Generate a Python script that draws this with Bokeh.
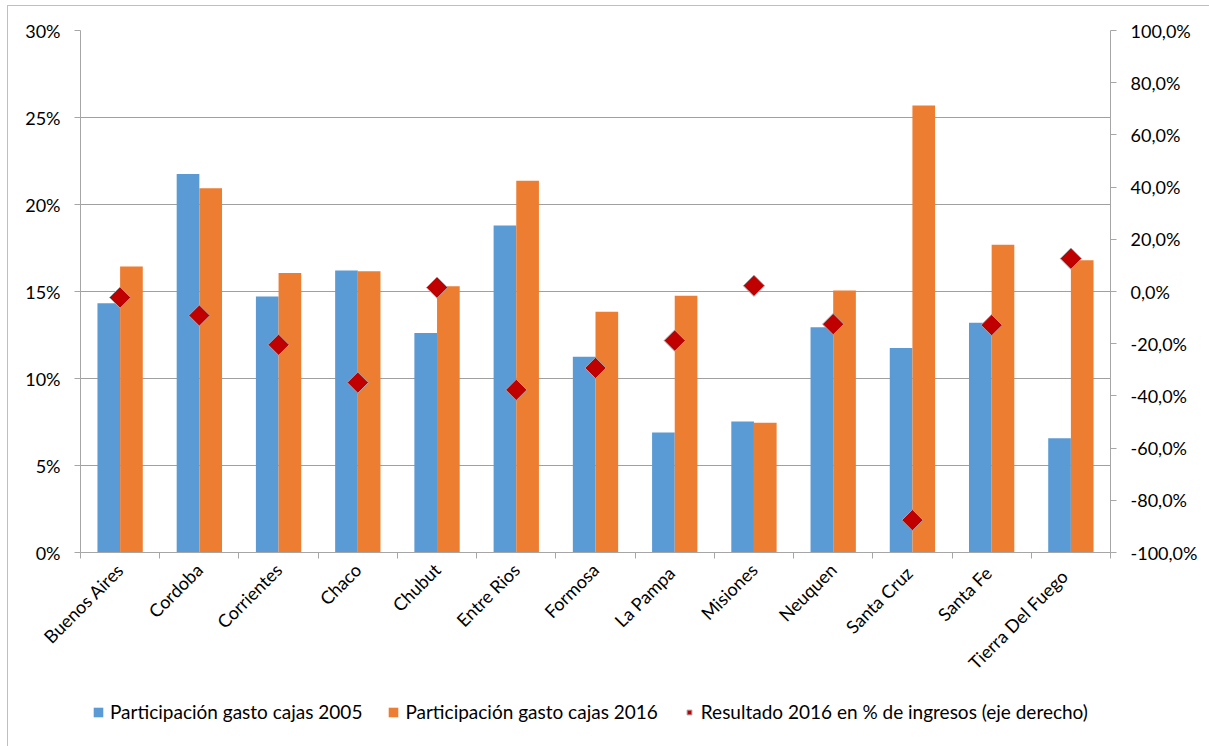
import numpy as np
from bokeh.plotting import figure
from bokeh.layouts import column
from bokeh.models import (Range1d, LinearAxis, FixedTicker, ColumnDataSource,
                          Legend, LegendItem)
from bokeh.transform import dodge
from bokeh.embed import file_html
from bokeh.resources import INLINE

# ---------------- data ----------------
provinces = ["Buenos Aires", "Cordoba", "Corrientes", "Chaco", "Chubut", "Entre Rios",
             "Formosa", "La  Pampa", "Misiones", "Neuquen", "Santa  Cruz", "Santa  Fe",
             "Tierra  Del  Fuego"]
gasto_2005 = [14.33, 21.76, 14.71, 16.21, 12.62, 18.79, 11.25, 6.90, 7.53, 12.95, 11.76, 13.20, 6.57]
gasto_2016 = [16.44, 20.94, 16.07, 16.17, 15.30, 21.36, 13.83, 14.75, 7.45, 15.06, 25.69, 17.68, 16.80]
resultado_2016 = [-2.3, -9.2, -20.4, -34.9, 1.5, -37.7, -29.3, -18.8, 2.2, -12.5, -87.6, -12.9, 12.6]

left_ticks = [0, 5, 10, 15, 20, 25, 30]
left_labels = ["0%", "5%", "10%", "15%", "20%", "25%", "30%"]
right_ticks = [-100, -80, -60, -40, -20, 0, 20, 40, 60, 80, 100]
right_labels = ["-100,0%", "-80,0%", "-60,0%", "-40,0%", "-20,0%", "0,0%",
                "20,0%", "40,0%", "60,0%", "80,0%", "100,0%"]

label_2005 = "Participación gasto cajas 2005"
label_2016 = "Participación gasto cajas 2016"
label_res = "Resultado 2016 en % de ingresos (eje derecho)"

# ---------------- styles ----------------
BLUE = "#5B9BD5"
ORANGE = "#ED7D31"
RED = "#C00000"
AXIS_GRAY = "#A6A6A6"
GRID_GRAY = "#A0A0A0"
FONT = "Lato"
FS = "18px"

n = len(provinces)
slot = [i + 0.5 for i in range(n)]          # category slot centres on the x scale
bounds = list(range(n + 1))                  # category boundaries (tick marks)

source = ColumnDataSource(dict(slot=slot, provincia=provinces, g05=gasto_2005,
                               g16=gasto_2016, res=resultado_2016))

p = figure(x_range=Range1d(0, n), y_range=Range1d(0, 30),
           width=1201, height=680,
           output_backend="svg", toolbar_location=None,
           min_border_left=72, min_border_right=99,
           min_border_top=24, min_border_bottom=134)
p.outline_line_color = None
p.background_fill_color = "white"
p.border_fill_color = "white"

p.extra_y_ranges = {"right": Range1d(-100, 100)}

# grid
p.xgrid.visible = False
p.ygrid.ticker = FixedTicker(ticks=left_ticks)
p.ygrid.grid_line_color = GRID_GRAY
p.ygrid.grid_line_width = 1


def style_axis(ax):
    ax.axis_line_color = AXIS_GRAY
    ax.major_tick_line_color = AXIS_GRAY
    ax.major_tick_out = 6
    ax.major_tick_in = 0
    ax.minor_tick_line_color = None
    ax.major_label_text_font = FONT
    ax.major_label_text_font_size = FS
    ax.major_label_text_color = "#000000"


# left axis
yax = p.yaxis[0]
style_axis(yax)
yax.ticker = FixedTicker(ticks=left_ticks)
yax.major_label_overrides = dict(zip(left_ticks, left_labels))
yax.major_label_standoff = 14

# right axis
rax = LinearAxis(y_range_name="right", ticker=FixedTicker(ticks=right_ticks))
style_axis(rax)
rax.major_label_overrides = dict(zip(right_ticks, right_labels))
rax.major_label_standoff = 14
p.add_layout(rax, "right")

# bottom: tick marks at category boundaries (no labels)
tick_ax = p.xaxis[0]
style_axis(tick_ax)
tick_ax.ticker = FixedTicker(ticks=bounds)
tick_ax.major_label_text_font_size = "0px"
tick_ax.major_label_text_color = None
tick_ax.major_label_standoff = 0

# bottom: category labels at slot centres
cat_ax = LinearAxis(ticker=FixedTicker(ticks=slot))
style_axis(cat_ax)
cat_ax.axis_line_color = None
cat_ax.major_tick_line_color = None
cat_ax.major_label_overrides = dict(zip(slot, provinces))
cat_ax.major_label_orientation = np.pi / 4
cat_ax.major_label_standoff = 2
p.add_layout(cat_ax, "below")

# bars
p.vbar(x=dodge("slot", -0.143), top="g05", width=0.286,
       source=source, fill_color=BLUE, line_color=None)
p.vbar(x=dodge("slot", 0.143), top="g16", width=0.286,
       source=source, fill_color=ORANGE, line_color=None)
# diamonds
p.scatter(x="slot", y="res", y_range_name="right", source=source,
          marker="square", angle=np.pi / 4, size=15,
          fill_color=RED, line_color=AXIS_GRAY, line_width=1)

# ---------------- legend strip (separate figure below the chart) ----------------
# its ranges lie far outside the data, so its renderers only feed the legend swatches
lf = figure(width=1201, height=60, x_range=Range1d(-1000, -999),
            y_range=Range1d(1000, 1001),
            output_backend="svg", toolbar_location=None,
            x_axis_location=None, y_axis_location=None,
            min_border=0, min_border_left=0, min_border_right=0,
            min_border_top=0, min_border_bottom=0)
lf.outline_line_color = None
lf.xgrid.visible = False
lf.ygrid.visible = False
lf.background_fill_color = "white"
lf.border_fill_color = "white"

l05 = lf.vbar(x="slot", top="g05", width=0.286, source=source,
              fill_color=BLUE, line_color=None)
l16 = lf.vbar(x="slot", top="g16", width=0.286, source=source,
              fill_color=ORANGE, line_color=None)
lres = lf.scatter(x="slot", y="res", source=source, marker="square", angle=np.pi / 4,
                  size=10, fill_color=RED, line_color=AXIS_GRAY, line_width=1)

legend = Legend(items=[LegendItem(label=label_2005, renderers=[l05]),
                       LegendItem(label=label_2016, renderers=[l16]),
                       LegendItem(label=label_res, renderers=[lres])],
                orientation="horizontal", location=(12, 23),
                label_text_font=FONT, label_text_font_size="19px",
                label_text_color="#000000",
                glyph_width=12, glyph_height=12, label_height=12,
                label_standoff=6, spacing=25, padding=0, margin=0,
                border_line_color=None, background_fill_alpha=0)
lf.add_layout(legend, "center")

layout = column(p, lf, margin=(5, 0, 0, 7),
                styles={"border-left": "1px solid #BFBFBF",
                        "border-top": "1px solid #BFBFBF"})

open("out.html", "w").write(file_html(layout, INLINE))
